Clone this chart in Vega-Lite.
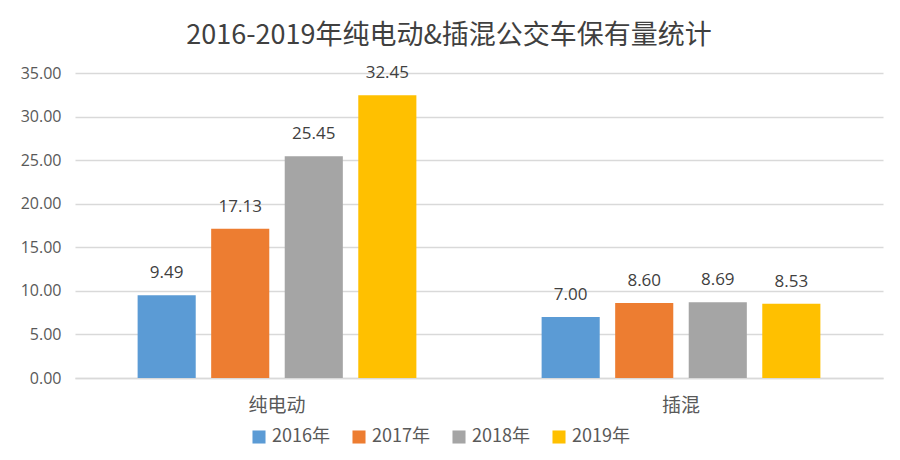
{
  "$schema": "https://vega.github.io/schema/vega-lite/v6.json",
  "width": 808,
  "height": 305,
  "padding": {"left": 20, "top": 22, "right": 15, "bottom": 8},
  "background": "white",
  "title": {
    "text": "2016-2019年纯电动&插混公交车保有量统计",
    "fontSize": 27,
    "font": "Noto Sans CJK SC",
    "fontWeight": "normal",
    "color": "#404040",
    "anchor": "middle",
    "dx": -30,
    "offset": 14
  },
  "data": {
    "values": [
      {"type": "纯电动", "year": "2016年", "value": 9.49},
      {"type": "纯电动", "year": "2017年", "value": 17.13},
      {"type": "纯电动", "year": "2018年", "value": 25.45},
      {"type": "纯电动", "year": "2019年", "value": 32.45},
      {"type": "插混", "year": "2016年", "value": 7.00},
      {"type": "插混", "year": "2017年", "value": 8.60},
      {"type": "插混", "year": "2018年", "value": 8.69},
      {"type": "插混", "year": "2019年", "value": 8.53}
    ]
  },
  "encoding": {
    "x": {
      "field": "type",
      "type": "nominal",
      "sort": ["纯电动", "插混"],
      "scale": {"paddingInner": 0.31, "paddingOuter": 0.155},
      "axis": {
        "title": null,
        "labelAngle": 0,
        "labelFontSize": 19,
        "labelFont": "Noto Sans CJK SC",
        "labelColor": "#595959",
        "labelPadding": 18,
        "ticks": false,
        "domainColor": "#d9d9d9",
        "domainWidth": 1.5
      }
    },
    "xOffset": {
      "field": "year",
      "type": "nominal",
      "scale": {"paddingInner": 0.21}
    },
    "y": {
      "field": "value",
      "type": "quantitative",
      "scale": {"domain": [0, 35]},
      "axis": {
        "title": null,
        "values": [0, 5, 10, 15, 20, 25, 30, 35],
        "format": ".2f",
        "labelFontSize": 16,
        "labelFont": "Open Sans",
        "labelColor": "#595959",
        "labelPadding": 14,
        "ticks": false,
        "domain": false,
        "gridColor": "#d9d9d9",
        "gridWidth": 1.5
      }
    }
  },
  "layer": [
    {
      "mark": {"type": "bar"},
      "encoding": {
        "color": {
          "field": "year",
          "type": "nominal",
          "scale": {
            "domain": ["2016年", "2017年", "2018年", "2019年"],
            "range": ["#5b9bd5", "#ed7d31", "#a5a5a5", "#ffc000"]
          },
          "legend": {
            "title": null,
            "orient": "none",
            "legendX": 175,
            "legendY": 355,
            "direction": "horizontal",
            "symbolType": "square",
            "symbolSize": 170,
            "symbolStrokeWidth": 0,
            "labelFontSize": 18,
            "labelFont": "Noto Sans CJK SC",
            "labelColor": "#595959",
            "columnPadding": 20
          }
        }
      }
    },
    {
      "mark": {
        "type": "text",
        "baseline": "bottom",
        "dy": -13,
        "fontSize": 17,
        "font": "Open Sans",
        "color": "#404040"
      },
      "encoding": {
        "text": {"field": "value", "type": "quantitative", "format": ".2f"}
      }
    }
  ],
  "config": {
    "view": {"stroke": null}
  }
}
